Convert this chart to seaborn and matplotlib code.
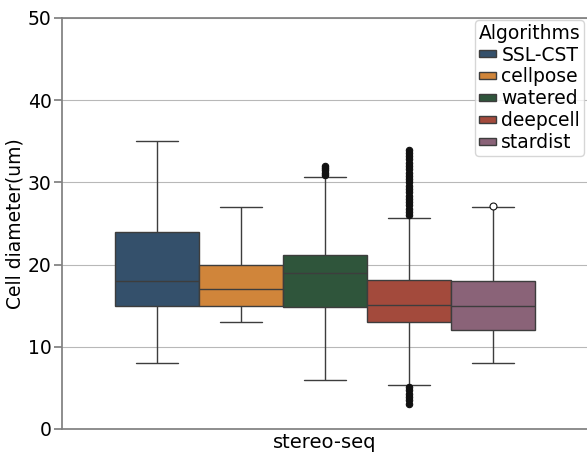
import numpy as np
import pandas as pd
import seaborn as sns
import matplotlib.pyplot as plt

platform = "stereo-seq"
algorithms = ["SSL-CST", "cellpose", "watered", "deepcell", "stardist"]

ssl_cst_values = [8, 11, 14, 15, 16.5, 18, 21, 24, 29, 35]
ssl_cst_counts = [1, 2, 3, 6, 4, 6, 4, 6, 3, 1]

cellpose_values = [13, 14, 15, 16, 17, 18.5, 20, 23, 27]
cellpose_counts = [1, 2, 6, 4, 6, 4, 6, 3, 1]

watered_values = [6, 10, 13, 14.8, 17, 19, 20, 21.2, 25, 30.6,
                  30.9, 31.2, 31.5, 31.8, 32.0]
watered_counts = [1, 2, 3, 10, 6, 10, 6, 10, 2, 1,
                  1, 1, 1, 1, 1]

deepcell_values = [3.1, 3.5, 3.9, 4.3, 4.7, 5.1,
                   5.4, 9, 11.5, 13, 14, 15.1, 16.5, 18.1, 21, 25.7,
                   26.0, 26.4, 26.8, 27.2, 27.6, 28.0, 28.4, 28.8, 29.2, 29.6,
                   30.0, 30.4, 30.8, 31.2, 31.6, 32.0, 32.4, 32.8, 33.2, 33.6, 33.9]
deepcell_counts = [1, 1, 1, 1, 1, 1,
                   1, 5, 6, 12, 10, 12, 14, 11, 2, 1,
                   1, 1, 1, 1, 1, 1, 1, 1, 1, 1,
                   1, 1, 1, 1, 1, 1, 1, 1, 1, 1, 1]

stardist_values = [8, 10, 12, 13.5, 15, 16.5, 18, 22, 27, 27.1]
stardist_counts = [1, 2, 7, 4, 6, 4, 6, 3, 1, 1]

palette = {
    "SSL-CST": "#34506B",   # blue
    "cellpose": "#D0853A",  # orange
    "watered": "#2F553B",   # green
    "deepcell": "#A34A3C",  # red
    "stardist": "#8A6378",  # mauve
}

values = [ssl_cst_values, cellpose_values, watered_values, deepcell_values, stardist_values]
counts = [ssl_cst_counts, cellpose_counts, watered_counts, deepcell_counts, stardist_counts]

frames = []
for name, v, c in zip(algorithms, values, counts):
    d = np.repeat(v, c)
    frames.append(pd.DataFrame({"Platform": platform, "Algorithms": name, "Cell diameter(um)": d}))
df = pd.concat(frames, ignore_index=True)

sns.set_theme(style="whitegrid", rc={
    "axes.edgecolor": "#808080",
    "axes.labelcolor": "black",
    "text.color": "black",
    "grid.color": "#b8b8b8",
    "grid.linewidth": 0.8,
    "ytick.left": True,
    "ytick.major.size": 6,
    "ytick.major.pad": 1.5,
    "xtick.major.size": 0,
    "xtick.major.pad": 3,
    "ytick.color": "#808080",
    "ytick.labelcolor": "black",
    "xtick.labelcolor": "black",
})
plt.rcParams["font.family"] = ["DejaVu Sans"]

fig = plt.figure(figsize=(5.87, 4.58), dpi=100)
ax = fig.add_axes([62 / 587, 1 - 429 / 458, 526 / 587, 411 / 458])

sns.boxplot(
    data=df,
    x="Platform",
    y="Cell diameter(um)",
    hue="Algorithms",
    hue_order=algorithms,
    palette=palette,
    saturation=1,
    width=0.8,
    gap=0,
    linecolor="#3d3d3d",
    linewidth=1,
    flierprops=dict(marker="o", markersize=4.6, markerfacecolor="#111111",
                    markeredgecolor="#111111", markeredgewidth=0.8),
    ax=ax,
)

# the lone stardist outlier is drawn as an open circle
for line in ax.lines:
    y = np.asarray(line.get_ydata(), dtype=float)
    if line.get_marker() == "o" and y.size and np.allclose(y, 27.1):
        line.set_markerfacecolor("white")
        line.set_markersize(5)

ax.set(ylim=(0, 50), yticks=range(0, 51, 10), xlabel="")
ax.xaxis.grid(False)
ax.set_axisbelow(True)
ax.spines["right"].set_visible(False)
ax.tick_params(axis="y", labelsize=13.5)
ax.tick_params(axis="x", labelsize=14)
ax.set_ylabel("Cell diameter(um)", fontsize=13.5, labelpad=2)

sns.move_legend(
    ax, "upper right",
    bbox_to_anchor=(0.9924, 0.995),
    borderaxespad=0,
    title="Algorithms",
    fontsize=13.5,
    title_fontsize=13.5,
    handlelength=0.9,
    handleheight=0.2,
    handletextpad=0.3,
    labelspacing=0.15,
    borderpad=0.2,
)

fig.savefig("out.png", dpi=100)
